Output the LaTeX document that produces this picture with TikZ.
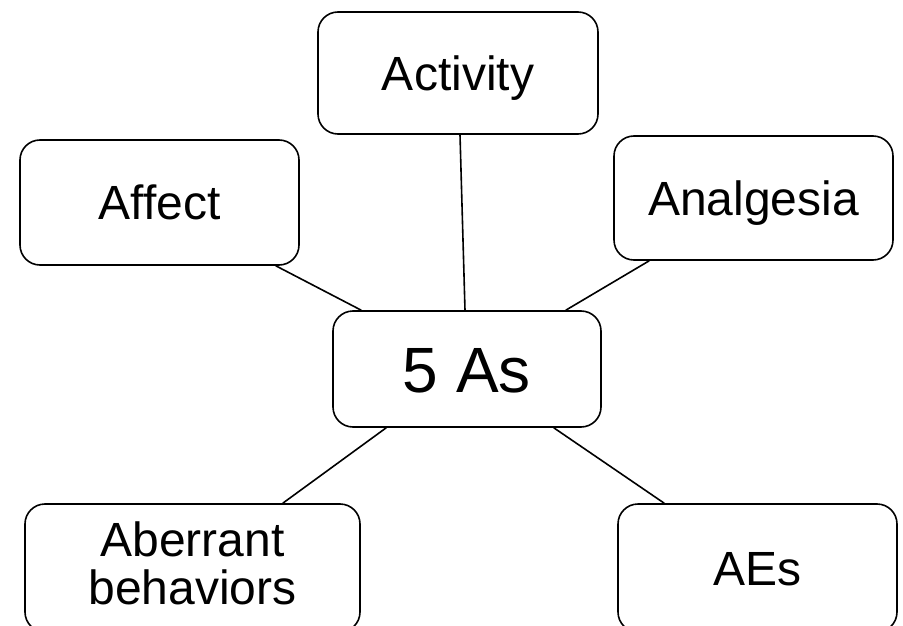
\documentclass[tikz,border=0pt]{standalone}
\usepackage{fontspec}
\setmainfont{Liberation Sans}
\begin{document}
\begin{tikzpicture}[x=1pt,y=-1pt,
  box/.style={draw=black,line width=1.6pt,rounded corners=20pt,fill=white,
    inner sep=0pt,align=center,font=\fontsize{48}{48}\selectfont},
  single/.style={text height=34.5pt,text depth=0pt},
  link/.style={draw=black,line width=1.6pt}]
\useasboundingbox (0,0) rectangle (903,626);
\clip (0,0) rectangle (903,626);
\fill[white] (0,0) rectangle (903,626);
\node[box,single,minimum width=280pt,minimum height=122pt] (activity) at (458,73) {Activity};
\node[box,single,minimum width=279pt,minimum height=125pt] (affect) at (159.5,202.5) {Affect};
\node[box,single,minimum width=279pt,minimum height=124pt] (analgesia) at (753.5,198) {Analgesia};
\node[box,minimum width=268pt,minimum height=116pt,font=\fontsize{64}{64}\selectfont,
  text height=46pt,text depth=0pt] (hub) at (467,369) {5 As};
\node[box,minimum width=335pt,minimum height=128pt] (aberrant) at (192.5,568) {Aberrant\\behaviors\rule[-9pt]{0pt}{0pt}};
\node[box,single,minimum width=279pt,minimum height=128pt] (aes) at (757.5,568) {AEs};
\draw[link] ([xshift=2pt]activity.south) -- ([xshift=-2pt]hub.north);
\draw[link] ([xshift=-24pt]affect.south east) -- ([xshift=29pt]hub.north west);
\draw[link] ([xshift=36pt]analgesia.south west) -- ([xshift=-36pt]hub.north east);
\draw[link] ([xshift=54pt]hub.south west) -- ([xshift=-78pt]aberrant.north east);
\draw[link] ([xshift=-48pt]hub.south east) -- ([xshift=47pt]aes.north west);
\end{tikzpicture}
\end{document}
